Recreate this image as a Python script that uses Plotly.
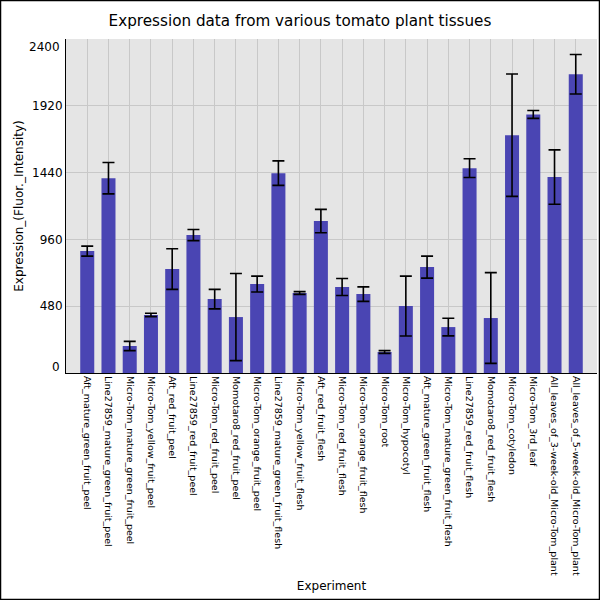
import plotly.graph_objects as go

# expression values
experiments = [
    "Aft_mature_green_fruit_peel",
    "Line27859_mature_green_fruit_peel",
    "Micro-Tom_mature_green_fruit_peel",
    "Micro-Tom_yellow_fruit_peel",
    "Aft_red_fruit_peel",
    "Line27859_red_fruit_peel",
    "Micro-Tom_red_fruit_peel",
    "Momotaro8_red_fruit_peel",
    "Micro-Tom_orange_fruit_peel",
    "Line27859_mature_green_fruit_flesh",
    "Micro-Tom_yellow_fruit_flesh",
    "Aft_red_fruit_flesh",
    "Micro-Tom_red_fruit_flesh",
    "Micro-Tom_orange_fruit_flesh",
    "Micro-Tom_root",
    "Micro-Tom_hypocotyl",
    "Aft_mature_green_fruit_flesh",
    "Micro-Tom_mature_green_fruit_flesh",
    "Line27859_red_fruit_flesh",
    "Momotaro8_red_fruit_flesh",
    "Micro-Tom_cotyledon",
    "Micro-Tom_3rd_leaf",
    "All_leaves_of_3-week-old_Micro-Tom_plant",
    "All_leaves_of_5-week-old_Micro-Tom_plant",
]
expression = [876, 1400, 194, 417, 747, 991, 531, 402, 639, 1436, 575, 1092,
              618, 567, 151, 481, 761, 330, 1472, 395, 1709, 1858, 1408, 2147]
std_err = [36, 113, 33, 12, 146, 40, 70, 313, 57, 88, 10, 84,
           61, 52, 10, 215, 79, 63, 67, 326, 440, 28, 195, 142]
y_ticks = [480, 960, 1440, 1920]
y_edge_ticks = [0, 2400]

W, H = 600, 600
ml, mr, mt, mb = 66, 3, 39, 227
pw, ph = W - ml - mr, H - mt - mb

fig = go.Figure()
fig.add_trace(go.Bar(
    x=experiments, y=expression,
    marker=dict(color="#4a45b3", line=dict(width=0)),
    width=0.66,
    error_y=dict(type="data", array=std_err, color="black", thickness=1.6, width=6),
))

fig.update_layout(
    width=W, height=H,
    margin=dict(l=ml, r=mr, t=mt, b=mb, autoexpand=False),
    paper_bgcolor="white", plot_bgcolor="#e5e5e5",
    font=dict(family="DejaVu Sans", color="black"),
    showlegend=False,
    title=dict(text="Expression data from various tomato plant tissues",
               x=0.5, xanchor="center", y=1 - 21 / H, yanchor="middle",
               font=dict(size=15.2)),
)
fig.update_xaxes(
    range=[-1, len(experiments)], automargin=False,
    tickangle=90, tickfont=dict(size=9.5),
    showgrid=True, gridcolor="#c8c8c8", gridwidth=1,
    showline=True, linecolor="black", linewidth=1,
    ticks="", title=dict(text="Experiment", font=dict(size=12), standoff=6),
)
fig.update_yaxes(
    range=[0, 2400], tickvals=y_ticks, tickfont=dict(size=12), automargin=False,
    showgrid=True, gridcolor="#c8c8c8", gridwidth=1,
    showline=True, linecolor="black", linewidth=1,
    zeroline=False, ticks="",
    title=dict(text="Expression_(Fluor._Intensity)", font=dict(size=12), standoff=5),
)
# end labels sit inside the axis span, as in the original
for v, shift in zip(y_edge_ticks, [6, -8]):
    fig.add_annotation(x=0, xref="paper", xanchor="right", xshift=-4,
                       y=v, yref="y", yshift=shift, text=str(v),
                       showarrow=False, font=dict(size=12))
# frame round the whole picture
fig.add_shape(type="rect", xref="paper", yref="paper",
              x0=-(ml - 0.5) / pw, x1=1 + (mr - 0.5) / pw,
              y0=-(mb - 0.5) / ph, y1=1 + (mt - 0.5) / ph,
              line=dict(color="black", width=1.5), layer="above")

fig.write_html("out.html", config={"displayModeBar": False},
               post_script="document.body.style.margin='0';")
